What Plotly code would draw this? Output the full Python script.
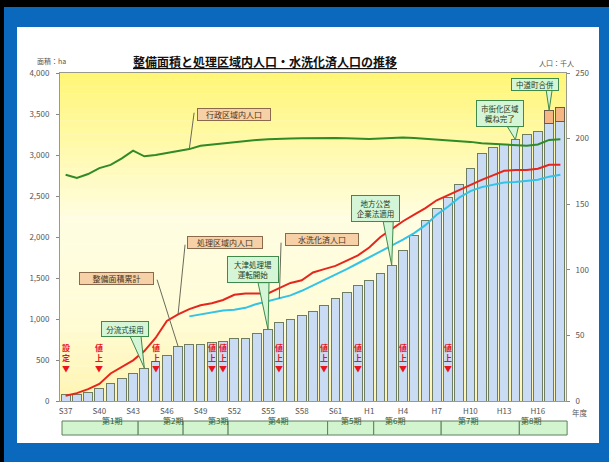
import plotly.graph_objects as go

# ---------------- data ----------------
years = ["S37", "S38", "S39", "S40", "S41", "S42", "S43", "S44", "S45", "S46",
         "S47", "S48", "S49", "S50", "S51", "S52", "S53", "S54", "S55", "S56",
         "S57", "S58", "S59", "S60", "S61", "S62", "S63", "H1", "H2", "H3",
         "H4", "H5", "H6", "H7", "H8", "H9", "H10", "H11", "H12", "H13",
         "H14", "H15", "H16", "H17", "H18"]

# cumulative developed area (ha) - left axis
area = [85, 78, 100, 158, 211, 272, 341, 402, 483, 552,
        666, 686, 695, 712, 727, 768, 768, 821, 870, 959,
        1000, 1040, 1089, 1162, 1244, 1325, 1406, 1471, 1561, 1654,
        1833, 2020, 2199, 2353, 2483, 2638, 2841, 3016, 3097, 3126,
        3187, 3256, 3288, 3390, 3410]
# area added by the town merger (ha)
merger_area = [None] * 43 + [154, 175]

# population (thousand people) - right axis
admin_pop = [172.5, 170, 173, 177.5, 180, 185, 190.8, 186.5, 187.5, 189,
             191, 192, 194.5, 195.5, 196.5, 197.5, 198, 199, 199.5, 200,
             200, 200.3, 200.5, 200.5, 200.5, 200.3, 200, 199.7, 200, 200.5,
             200.8, 200.5, 200, 199.5, 199, 198.5, 197.5, 196.5, 196, 195.5,
             195, 194.5, 195.5, 199, 199.5]
treated_pop = [4, 6, 9, 13, 21, 26, 31, 38, 48, 61,
               66, 70, 73, 74.5, 77, 81, 82, 82, 82, 86,
               90, 92, 98, 100.5, 103, 107, 111, 117, 125, 131,
               137, 142, 147, 153, 157, 161, 165, 168.5, 172, 175.5,
               176, 176, 177, 180, 180]
flush_pop = [None] * 11 + [
    64.5, 66, 67.5, 69, 69.5, 71, 74, 76, 78,
    80.5, 84, 88, 92, 96.5, 100.5, 105, 109.5, 114, 118,
    123, 128, 134, 142, 148, 155, 160, 163, 165, 166.5,
    167, 168, 168.7, 171, 172.5]

tick_idx = [0, 3, 6, 9, 12, 15, 18, 21, 24, 27, 30, 33, 36, 39, 42]
tick_text = [years[i] for i in tick_idx]

periods = ["第1期", "第2期", "第3期", "第4期", "第5期", "第6期", "第7期", "第8期"]
period_bounds = [-0.32, 6.45, 10.45, 14.45, 23.3, 27.4, 33.4, 40.35, 44.6]

fee_idx = [0, 3, 8, 13, 14, 19, 23, 26, 30, 34]
fee_text = ["設定", "値上", "値上", "値上", "値上", "値上", "値上", "値上", "値上", "値上"]

x = list(range(len(years)))

FONT = "Noto Sans CJK JP"
W, H = 609, 462
L, R, T, B = 60, 43, 73, 61
PW, PH = W - L - R, H - T - B


def pxx(v):
    return (v - L) / PW


def pxy(v):
    return (H - B - v) / PH


def idx2paper(i):
    return (i + 0.5) / len(years)


fig = go.Figure()
fig.add_trace(go.Bar(x=x, y=area, width=0.78, name="整備面積累計",
                     marker=dict(color="#c9dcf4", line=dict(color="#6e7d62", width=1)),
                     yaxis="y"))
fig.add_trace(go.Bar(x=x, y=merger_area, width=0.78, name="中道町合併",
                     marker=dict(color="#f5b684", line=dict(color="#6b5a48", width=1)),
                     yaxis="y"))
fig.add_trace(go.Scatter(x=x, y=admin_pop, mode="lines", name="行政区域内人口",
                         line=dict(color="#2f8a27", width=2), yaxis="y2"))
fig.add_trace(go.Scatter(x=x, y=treated_pop, mode="lines", name="処理区域内人口",
                         line=dict(color="#e6261c", width=2), yaxis="y2"))
fig.add_trace(go.Scatter(x=x, y=flush_pop, mode="lines", name="水洗化済人口",
                         line=dict(color="#33c3e6", width=2), yaxis="y2"))

shapes = []
# white panel and frame edges
shapes.append(dict(type="rect", xref="paper", yref="paper", layer="below",
                   x0=pxx(17), x1=pxx(599), y0=pxy(443), y1=pxy(27),
                   fillcolor="white", line=dict(width=0)))
shapes.append(dict(type="rect", xref="paper", yref="paper", layer="below",
                   x0=pxx(0), x1=pxx(609), y0=pxy(7), y1=pxy(0),
                   fillcolor="black", line=dict(width=0)))
shapes.append(dict(type="rect", xref="paper", yref="paper", layer="below",
                   x0=pxx(0), x1=pxx(4), y0=pxy(462), y1=pxy(0),
                   fillcolor="black", line=dict(width=0)))

# plot-area gradient
stops = [(0.0, (255, 246, 118)), (0.45, (255, 253, 226)),
         (0.75, (255, 252, 214)), (1.0, (255, 244, 178))]


def grad(f):
    for (a, ca), (b, cb) in zip(stops[:-1], stops[1:]):
        if a <= f <= b:
            t = (f - a) / (b - a)
            return "rgb(%d,%d,%d)" % tuple(round(ca[k] + (cb[k] - ca[k]) * t) for k in range(3))
    return "rgb(%d,%d,%d)" % stops[-1][1]


N = 48
for k in range(N):
    f0, f1 = k / N, (k + 1) / N
    shapes.append(dict(type="rect", xref="paper", yref="paper", layer="below",
                       x0=0, x1=1, y0=1 - f1, y1=1 - f0 + 0.001,
                       fillcolor=grad((f0 + f1) / 2), line=dict(width=0)))

# period band
annotations = []
for i, name in enumerate(periods):
    a, b = period_bounds[i], period_bounds[i + 1]
    shapes.append(dict(type="rect", xref="paper", yref="paper", layer="above",
                       x0=idx2paper(a), x1=idx2paper(b), y0=pxy(435), y1=pxy(421),
                       fillcolor="#d2f5cf", line=dict(color="#5f7f5f", width=1)))
    annotations.append(dict(xref="paper", yref="paper", x=idx2paper((a + b) / 2), y=pxy(428),
                            text=name, showarrow=False,
                            font=dict(family=FONT, size=8, color="#2e5a2e")))

# ---- callouts: leader-labels (beige) ----
beige = [
    # text, idx, axis, value, box shift (dx, dy), line end offset, box w
    ("行政区域内人口", 11, "y2", admin_pop[11], (44.8, 34.9), (4.8, 36.4), 72),
    ("処理区域内人口", 10, "y2", treated_pop[10], (47, 72.2), (7, 69.7), 74),
    ("水洗化済人口", 19, "y2", flush_pop[19], (42.8, 59), (1.8, 56), 72),
    ("整備面積累計", 10, "y", area[10], (-61.5, 67.7), (-21, 66.7), 73),
]
for text, i, ax_, val, (sx, sy), (lx, ly), bw in beige:
    shapes.append(dict(type="line", xref="x", yref=ax_, layer="above",
                       xsizemode="pixel", ysizemode="pixel", xanchor=i, yanchor=val,
                       x0=0, y0=0, x1=lx, y1=ly,
                       line=dict(color="#6a6a5a", width=1)))
    annotations.append(dict(xref="x", yref=ax_, x=i, y=val, xshift=sx, yshift=sy,
                            text=text, showarrow=False, width=bw, height=11,
                            bgcolor="#f6d0a6", bordercolor="#8a6a4a", borderwidth=1, borderpad=0,
                            font=dict(family=FONT, size=8, color="#4a3520")))

# ---- callouts: wedge (green) ----
total_43 = area[43] + merger_area[43]
green = [
    ("分流式採用", 7, area[7], (-19.3, 39.3), (-14.3, -3.3, 31.8), 46, 14),
    ("大津処理場<br>運転開始", 18, area[18], (-15.5, 60), (-10, 1, 47), 50, 25),
    ("地方公営<br>企業法適用", 29, area[29], (-16.5, 57.2), (-8.5, 1.5, 43.7), 47, 25),
    ("市街化区域<br>概ね完了", 40, area[40], (-15.8, 26.5), (-8, 3, 13), 46, 25),
    ("中道町合併", 43, total_43, (-14.5, 26), (-3, 3, 20.5), 46, 11),
]
for text, i, val, (sx, sy), (a, b, h), bw, bh in green:
    shapes.append(dict(type="path", xref="x", yref="y", layer="above",
                       xsizemode="pixel", ysizemode="pixel", xanchor=i, yanchor=val,
                       path=f"M 0,0 L {a},{h} L {b},{h} Z",
                       fillcolor="#d4f6d6", line=dict(color="#3f8a4a", width=1)))
    annotations.append(dict(xref="x", yref="y", x=i, y=val, xshift=sx, yshift=sy,
                            text=text, showarrow=False, width=bw, height=bh,
                            bgcolor="#d4f6d6", bordercolor="#3f8a4a", borderwidth=1, borderpad=0,
                            font=dict(family=FONT, size=7.5, color="#1f3a22")))

# fee markers
for i, t in zip(fee_idx, fee_text):
    annotations.append(dict(xref="x", yref="y", x=i, y=528, showarrow=False,
                            text=f"<b>{t[0]}<br>{t[1]}<br>▼</b>",
                            font=dict(family=FONT, size=8, color="#e8141e")))

# titles
annotations += [
    dict(xref="paper", yref="paper", x=pxx(265), y=pxy(51), showarrow=False,
         text="<u><b>整備面積と処理区域内人口・水洗化済人口の推移</b></u>",
         font=dict(family=FONT, size=12, color="#111")),
    dict(xref="paper", yref="paper", x=pxx(36), y=pxy(55), showarrow=False,
         text="面積：ha", font=dict(family=FONT, size=7, color="#555"),
         borderpad=0),
    dict(xref="paper", yref="paper", x=pxx(575), y=pxy(57), showarrow=False,
         text="人口：千人", font=dict(family=FONT, size=7, color="#555"),
         borderpad=0),
    dict(xref="paper", yref="paper", x=pxx(589), y=pxy(419), showarrow=False,
         text="年度", font=dict(family=FONT, size=7.5, color="#555"),
         borderpad=0),
]

axis_font = dict(family=FONT, size=8, color="#555")
fig.update_layout(
    width=W, height=H, margin=dict(l=L, r=R, t=T, b=B),
    paper_bgcolor="#0b69bd", plot_bgcolor="rgba(0,0,0,0)",
    barmode="stack", showlegend=False,
    xaxis=dict(range=[-0.5, 44.5], tickvals=tick_idx, ticktext=tick_text,
               tickfont=axis_font, showline=True, linecolor="#9a9a8a", mirror=True,
               showgrid=False, zeroline=False, ticks="", ticklabelstandoff=2),
    yaxis=dict(range=[0, 4000], dtick=500, tickformat=",", tickfont=axis_font,
               ticks="outside", ticklen=3, tickcolor="#888", showline=True,
               linecolor="#9a9a8a", showgrid=False, zeroline=False, ticklabelstandoff=5),
    yaxis2=dict(range=[0, 250], dtick=50, overlaying="y", side="right", tickfont=axis_font,
                ticks="outside", ticklen=3, tickcolor="#888", showline=True,
                linecolor="#9a9a8a", showgrid=False, zeroline=False, ticklabelstandoff=4),
    shapes=shapes, annotations=annotations,
    font=dict(family=FONT),
)

fig.write_html("out.html")
